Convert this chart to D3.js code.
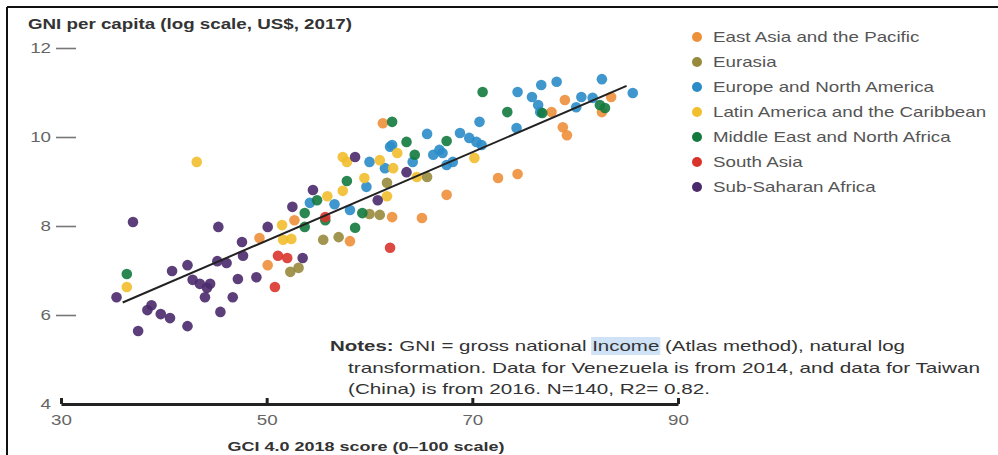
<!DOCTYPE html>
<html>
<head>
<meta charset="utf-8">
<script src="https://cdn.jsdelivr.net/npm/d3@7"></script>
<style>
body { margin: 0; background: #fff; }
text { font-family: "Liberation Sans", Arial, sans-serif; }
</style>
</head>
<body>
<div class="canva"></div>
<script>
// regions + colours (legend order)
const regions = ["East Asia and the Pacific", "Eurasia", "Europe and North America",
  "Latin America and the Caribbean", "Middle East and North Africa", "South Asia", "Sub-Saharan Africa"];
const colors = ["#ee8f3a", "#978a3c", "#2b8cc8", "#f2be2e", "#137a3e", "#d9342b", "#4a2a6b"];

// [GCI score, ln GNI per capita]
const eastAsia = [[49.3,7.73],[50.1,7.12],[52.7,8.13],[58.1,7.66],[62.2,8.20],[65.1,8.18],[67.5,8.70],
  [72.5,9.08],[74.4,9.17],[61.3,10.31],[77.7,10.56],[78.8,10.22],[79.2,10.04],[79.0,10.83],[83.5,10.90],[82.6,10.56]];
const eurasia = [[52.3,6.97],[53.1,7.06],[55.5,7.69],[57.0,7.75],[60.0,8.27],[61.0,8.25],[61.7,8.97],[65.6,9.10]];
const europe = [[54.2,8.52],[56.6,8.49],[58.1,8.36],[59.7,8.88],[60.0,9.44],[61.5,9.30],[62.0,9.78],[62.2,9.82],
  [64.2,9.44],[65.6,10.07],[66.2,9.60],[66.8,9.71],[67.1,9.64],[67.5,9.37],[68.1,9.44],[68.8,10.09],[69.7,9.98],
  [70.4,9.89],[70.9,9.82],[70.7,10.34],[74.3,10.20],[74.4,11.01],[75.8,10.90],[76.4,10.72],[76.6,10.56],
  [76.7,11.17],[78.2,11.24],[80.1,10.67],[80.6,10.90],[81.7,10.88],[82.6,11.30],[85.6,10.99]];
const latam = [[36.4,6.63],[43.2,9.44],[51.5,8.02],[51.6,7.69],[52.4,7.71],[55.9,8.67],[57.4,8.79],[57.4,9.55],
  [57.8,9.44],[59.5,9.08],[61.0,9.48],[61.7,8.67],[62.3,9.30],[62.7,9.64],[64.6,9.10],[70.2,9.53]];
const mena = [[36.4,6.92],[53.7,8.29],[53.7,7.98],[54.9,8.58],[55.7,8.13],[57.8,9.01],[58.6,7.96],[59.3,8.29],
  [62.2,10.34],[63.6,9.89],[64.4,9.60],[67.5,9.91],[71.0,11.01],[73.4,10.56],[76.8,10.54],[82.4,10.72],[82.9,10.65]];
const southAsia = [[51.1,7.33],[52.0,7.28],[50.8,6.63],[55.7,8.20],[62.0,7.51]];
const subSahara = [[35.4,6.40],[37.0,8.09],[37.5,5.64],[38.4,6.11],[38.8,6.22],[39.7,6.02],[40.6,5.93],[40.8,6.99],
  [42.3,7.12],[42.3,5.75],[42.8,6.79],[43.5,6.70],[44.2,6.61],[44.5,6.70],[44.0,6.40],[45.2,7.21],[46.1,7.17],
  [45.3,7.98],[45.5,6.07],[46.7,6.40],[47.2,6.81],[47.6,7.64],[47.7,7.33],[49.0,6.85],[50.1,7.98],[52.5,8.43],
  [53.5,7.28],[54.5,8.81],[58.6,9.55],[60.8,8.58],[63.6,9.21]];
const series = [eastAsia, eurasia, europe, latam, mena, southAsia, subSahara];

const xTicks = [30, 50, 70, 90];
const yTicks = [4, 6, 8, 10, 12];
const fitLine = [[36, 6.28], [85, 11.15]];

const svg = d3.select(".canva").append("svg")
  .attr("width", 998)
  .attr("height", 455);

// stretch text horizontally like the (widened) original
function stretch(sel, k) {
  sel.each(function () {
    const w = this.getComputedTextLength();
    d3.select(this).attr("textLength", w * k).attr("lengthAdjust", "spacingAndGlyphs");
  });
}
function fitTo(sel, w) {
  sel.attr("textLength", w).attr("lengthAdjust", "spacingAndGlyphs");
}

// frame
svg.append("line").attr("x1", 7).attr("x2", 998).attr("y1", 7).attr("y2", 7)
  .attr("stroke", "#111").attr("stroke-width", 2);
svg.append("line").attr("x1", 7).attr("x2", 7).attr("y1", 7).attr("y2", 455)
  .attr("stroke", "#111").attr("stroke-width", 2);

const x = d3.scaleLinear().domain([30, 90]).range([61, 678]);
const y = d3.scaleLinear().domain([4, 12]).range([404, 48]);

// points
const pts = [];
series.forEach((s, i) => s.forEach(d => pts.push({ gci: d[0], gni: d[1], c: colors[i] })));
svg.append("g").selectAll("circle")
  .data(pts)
  .enter().append("circle")
  .attr("cx", d => x(d.gci))
  .attr("cy", d => y(d.gni))
  .attr("r", 5.3)
  .attr("fill", d => d.c)
  .attr("opacity", 0.9);

// fitted line
svg.append("path")
  .attr("d", d3.line().x(d => x(d[0])).y(d => y(d[1]))(fitLine))
  .attr("stroke", "#222")
  .attr("stroke-width", 2)
  .attr("fill", "none");

// x axis
const xAxis = svg.append("g")
  .attr("transform", "translate(0,404)")
  .call(d3.axisBottom(x).tickValues(xTicks).tickSizeInner(-6).tickSizeOuter(0).tickPadding(10));
xAxis.select(".domain").attr("stroke", "#222").attr("stroke-width", 3);
xAxis.selectAll(".tick line").attr("stroke", "#222").attr("stroke-width", 3);
xAxis.selectAll(".tick text").attr("font-size", 15).attr("fill", "#666")
  .attr("font-family", "Liberation Sans, Arial, sans-serif").call(stretch, 1.25);

// y axis
const yAxis = svg.append("g")
  .attr("transform", "translate(76,0)")
  .call(d3.axisLeft(y).tickValues(yTicks).tickSize(20).tickPadding(5));
yAxis.select(".domain").remove();
yAxis.selectAll(".tick line").attr("stroke", "#777").attr("stroke-width", 1.6)
  .filter(d => d === 4).remove();
yAxis.selectAll(".tick text").attr("font-size", 15).attr("fill", "#666")
  .attr("font-family", "Liberation Sans, Arial, sans-serif").call(stretch, 1.25);

// axis titles
svg.append("text")
  .attr("x", 28).attr("y", 29)
  .attr("font-size", 14).attr("font-weight", "bold").attr("fill", "#333")
  .text("GNI per capita (log scale, US$, 2017)")
  .call(fitTo, 324);
svg.append("text")
  .attr("x", 366).attr("y", 451)
  .attr("text-anchor", "middle")
  .attr("font-size", 13.5).attr("font-weight", "bold").attr("fill", "#333")
  .text("GCI 4.0 2018 score (0–100 scale)")
  .call(fitTo, 277);

// legend
const leg = svg.append("g").selectAll("g")
  .data(regions)
  .enter().append("g")
  .attr("transform", (d, i) => `translate(697,${37 + i * 25})`);
leg.append("circle").attr("r", 5).attr("fill", (d, i) => colors[i]);
leg.append("text")
  .attr("x", 16).attr("dy", "0.35em")
  .attr("font-size", 15).attr("fill", "#555")
  .text(d => d)
  .call(stretch, 1.25);

// notes
const hl = svg.append("rect").attr("fill", "#cfe2f6");
const n1 = svg.append("text").attr("x", 330).attr("y", 351).attr("font-size", 15).attr("fill", "#333");
n1.append("tspan").attr("font-weight", "bold").text("Notes: ");
n1.append("tspan").text("GNI = gross national Income (Atlas method), natural log");
n1.call(fitTo, 575);
svg.append("text").attr("x", 348).attr("y", 373).attr("font-size", 15).attr("fill", "#333")
  .text("transformation. Data for Venezuela is from 2014, and data for Taiwan")
  .call(fitTo, 632);
svg.append("text").attr("x", 348).attr("y", 394).attr("font-size", 15).attr("fill", "#333")
  .text("(China) is from 2016. N=140, R2= 0.82.")
  .call(fitTo, 362);

// highlight behind "Income"
const full = "Notes: GNI = gross national ";
const node = n1.node();
const s0 = node.getStartPositionOfChar(full.length).x;
const e0 = node.getEndPositionOfChar(full.length + 5).x;
hl.attr("x", s0 - 1).attr("y", 337).attr("width", e0 - s0 + 2).attr("height", 18);
</script>
</body>
</html>
